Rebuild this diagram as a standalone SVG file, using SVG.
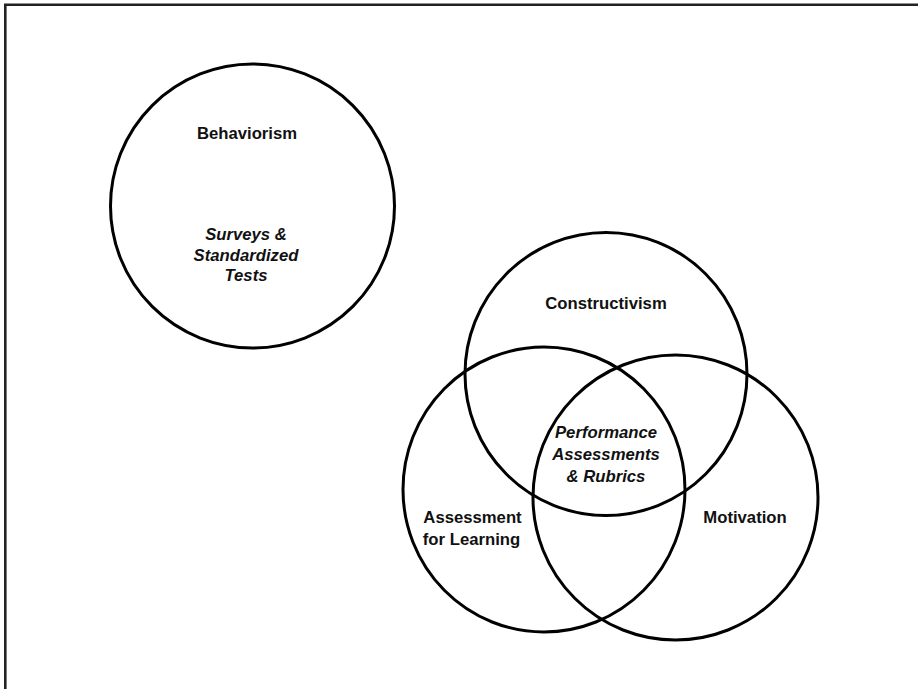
<svg xmlns="http://www.w3.org/2000/svg" width="918" height="689" viewBox="0 0 918 689">
<style>
.c{fill:none;stroke:#000;stroke-width:3}
.t{font-family:"Liberation Sans",Arial,sans-serif;font-size:16.7px;font-weight:bold;fill:#111;text-anchor:middle}
.i{font-style:italic}
</style>
<rect x="0" y="0" width="918" height="689" fill="#fff"/>
<path d="M5.3 689 V4.7 H918" fill="none" stroke="#222" stroke-width="2.6"/>
<g id="behaviorism">
<ellipse class="c" cx="252.5" cy="206" rx="142" ry="142"/>
<text class="t" x="247" y="139">Behaviorism</text>
<text class="t i" x="246" y="240">Surveys &amp;</text>
<text class="t i" x="246" y="260.5">Standardized</text>
<text class="t i" x="246" y="281">Tests</text>
</g>
<g id="constructivism">
<ellipse class="c" cx="606" cy="374" rx="141" ry="141.5"/>
<text class="t" x="606" y="308.7">Constructivism</text>
</g>
<g id="assessment">
<ellipse class="c" cx="544" cy="489.5" rx="141" ry="142.5"/>
<text class="t" x="472.5" y="523">Assessment</text>
<text class="t" x="471.5" y="545">for Learning</text>
</g>
<g id="motivation">
<ellipse class="c" cx="675.5" cy="497.5" rx="142.5" ry="142.5"/>
<text class="t" x="745" y="523">Motivation</text>
</g>
<g id="overlap">
<text class="t i" x="606" y="438">Performance</text>
<text class="t i" x="606" y="460">Assessments</text>
<text class="t i" x="606" y="482">&amp; Rubrics</text>
</g>
<g id="connectors"/>
</svg>
